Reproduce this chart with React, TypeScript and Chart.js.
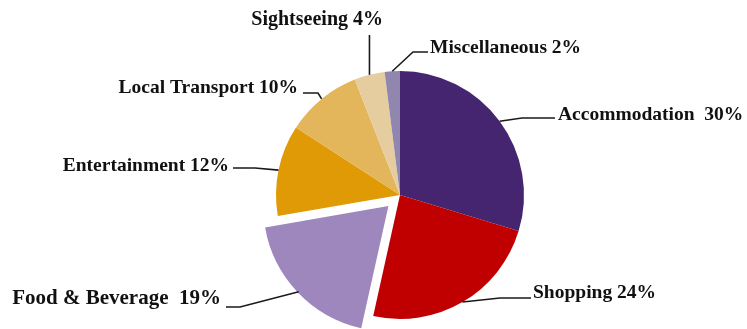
import React, { useEffect, useRef } from "react";
import { Chart, registerables } from "chart.js";

Chart.register(...registerables);

const categories = [
  "Accommodation",
  "Shopping",
  "Food & Beverage",
  "Entertainment",
  "Local Transport",
  "Sightseeing",
  "Miscellaneous",
];
const values = [30, 24, 19, 12, 10, 4, 2];
const labelSeparators = ["  ", " ", "  ", " ", " ", " ", " "];
const colors = ["#45256f", "#c00000", "#9e87bd", "#e09a05", "#e4b65c", "#e5cd9f", "#9187ae"];
// Chart.js translates an arc by offset / 4 pixels
const offsets = [0, 0, 64, 0, 0, 0, 0];

type LabelLayout = {
  elbow: [number, number] | null;
  end: [number, number];
  text: [number, number];
  align: CanvasTextAlign;
  size: number;
};
const layouts: LabelLayout[] = [
  { elbow: [522, 118], end: [555, 118], text: [558, 115], align: "left", size: 19.5 },
  { elbow: [500, 298], end: [531, 298], text: [533, 293], align: "left", size: 19.5 },
  { elbow: [240, 307], end: [226, 307], text: [221, 299], align: "right", size: 21 },
  { elbow: [255, 168], end: [233, 168], text: [229, 166], align: "right", size: 19.5 },
  { elbow: [318, 93], end: [303, 93], text: [298, 88], align: "right", size: 19.5 },
  { elbow: null, end: [0, 35], text: [383, 20], align: "right", size: 20 },
  { elbow: [413, 52], end: [428, 52], text: [430, 48], align: "left", size: 19.5 },
];

const labelPlugin = {
  id: "leaderLabels",
  afterDraw(chart: any) {
    const ctx = chart.ctx as CanvasRenderingContext2D;
    const meta = chart.getDatasetMeta(0);
    ctx.save();
    meta.data.forEach((arc: any, i: number) => {
      const p = arc.getProps(["x", "y", "startAngle", "endAngle", "outerRadius"], true);
      const mid = (p.startAngle + p.endAngle) / 2;
      const off = offsets[i] / 4;
      const cx = p.x + Math.cos(mid) * off;
      const cy = p.y + Math.sin(mid) * off;
      const sx = cx + Math.cos(mid) * p.outerRadius;
      const sy = cy + Math.sin(mid) * p.outerRadius;
      const L = layouts[i];
      ctx.strokeStyle = "#1a1a1a";
      ctx.lineWidth = 1.6;
      ctx.beginPath();
      ctx.moveTo(sx, sy);
      if (L.elbow) {
        ctx.lineTo(L.elbow[0], L.elbow[1]);
        ctx.lineTo(L.end[0], L.end[1]);
      } else {
        ctx.lineTo(sx, L.end[1]);
      }
      ctx.stroke();
      ctx.fillStyle = "#111";
      ctx.font = `bold ${L.size}px 'Liberation Serif', 'Times New Roman', serif`;
      ctx.textAlign = L.align;
      ctx.textBaseline = "middle";
      ctx.fillText(`${categories[i]}${labelSeparators[i]}${values[i]}%`, L.text[0], L.text[1]);
    });
    ctx.restore();
  },
};

export default function App() {
  const ref = useRef<HTMLCanvasElement | null>(null);
  useEffect(() => {
    if (!ref.current) return;
    const chart = new Chart(ref.current, {
      type: "pie",
      data: {
        labels: categories,
        datasets: [
          {
            data: values,
            backgroundColor: colors,
            borderWidth: 0,
            offset: offsets,
          },
        ],
      },
      options: {
        animation: false,
        responsive: false,
        radius: 124,
        layout: { padding: { left: 106, right: 53, top: 70, bottom: 9 } },
        plugins: { legend: { display: false }, tooltip: { enabled: false } },
      } as any,
      plugins: [labelPlugin],
    });
    return () => chart.destroy();
  }, []);
  return (
    <div style={{ position: "fixed", left: 0, top: 0, width: 747, height: 329, background: "#fff" }}>
      <canvas ref={ref} width={747} height={329} style={{ width: 747, height: 329 }} />
    </div>
  );
}
